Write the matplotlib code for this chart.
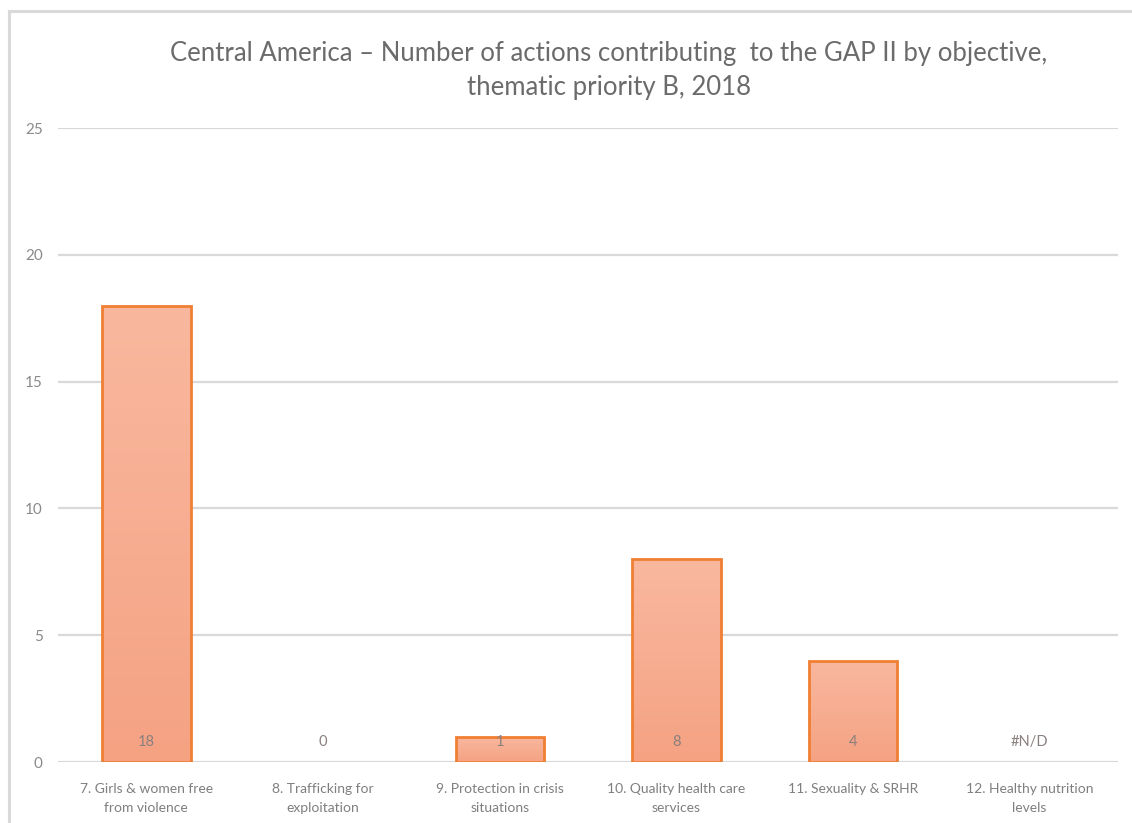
import numpy as np
import matplotlib
matplotlib.use("Agg")
import matplotlib.pyplot as plt
from matplotlib.patches import Rectangle
from matplotlib.colors import LinearSegmentedColormap

# Objectives (thematic priority B) and number of actions
categories = [
    "7. Girls & women free\nfrom violence",
    "8. Trafficking for\nexploitation",
    "9. Protection in crisis\nsituations",
    "10. Quality health care\nservices",
    "11. Sexuality & SRHR",
    "12. Healthy nutrition\nlevels",
]
values = [18, 0, 1, 8, 4, np.nan]
yticks = [0, 5, 10, 15, 20, 25]
title = ("Central America \u2013 Number of actions contributing  to the GAP II by objective,\n"
         "thematic priority B, 2018")

plt.rcParams["font.family"] = ["Lato", "DejaVu Sans"]

W, H = 1132, 823
fig = plt.figure(figsize=(W / 100, H / 100), dpi=100)
fig.patch.set_facecolor("white")

# Light chart-area border
fig.patches.append(Rectangle((9 / W, -0.05), 1.2, 1 - 11 / H + 0.05,
                             transform=fig.transFigure, fill=False,
                             edgecolor="#D9D9D9", linewidth=2.2, zorder=0))

ax = fig.add_axes([58 / W, 1 - 762 / H, (1118 - 58) / W, (762 - 128) / H])
x = np.arange(len(categories))

for s in ax.spines.values():
    s.set_visible(False)
ax.set_yticks(yticks)
ax.set_yticklabels([str(t) for t in yticks], fontsize=11, color="#8A8A8A")
ax.tick_params(axis="y", length=0, pad=11)
ax.tick_params(axis="x", length=0, pad=15)
ax.set_xticks(x)
ax.set_xticklabels(categories, fontsize=10, color="#7F7F7F", linespacing=1.75)
ax.grid(axis="y", color="#D9D9D9", linewidth=1.6, zorder=0)
ax.set_axisbelow(True)

plot_vals = np.nan_to_num(np.array(values, dtype=float), nan=0.0)
bars = ax.bar(x, plot_vals, width=0.5, facecolor="none",
              edgecolor="#F07F33", linewidth=2.0, zorder=3)

# Soft vertical gradient inside each bar; empty bars get no outline
grad = LinearSegmentedColormap.from_list("salmon", ["#F5A283", "#F9B89E"])
g = np.linspace(0, 1, 256).reshape(-1, 1)
for b, v in zip(bars, plot_vals):
    if v <= 0:
        b.set_visible(False)
        continue
    im = ax.imshow(g, cmap=grad, origin="lower", aspect="auto",
                   extent=[b.get_x(), b.get_x() + b.get_width(), 0, v],
                   zorder=2, interpolation="bilinear")
    im.set_clip_path(b)
ax.set_xlim(-0.5, len(categories) - 0.5)
ax.set_ylim(0, 25)

# Value labels at the base of each bar
for xi, v in zip(x, values):
    label = "#N/D" if np.isnan(v) else f"{int(v)}"
    ax.text(xi, 0.8, label, ha="center", va="center", fontsize=10.5,
            color="#8A7F7F", zorder=4)

fig.text(609 / W, 1 - 70 / H, title, ha="center", va="center",
         fontsize=18.5, color="#6B6B6B", linespacing=1.45)

fig.savefig("out.png", dpi=100, facecolor="white")
